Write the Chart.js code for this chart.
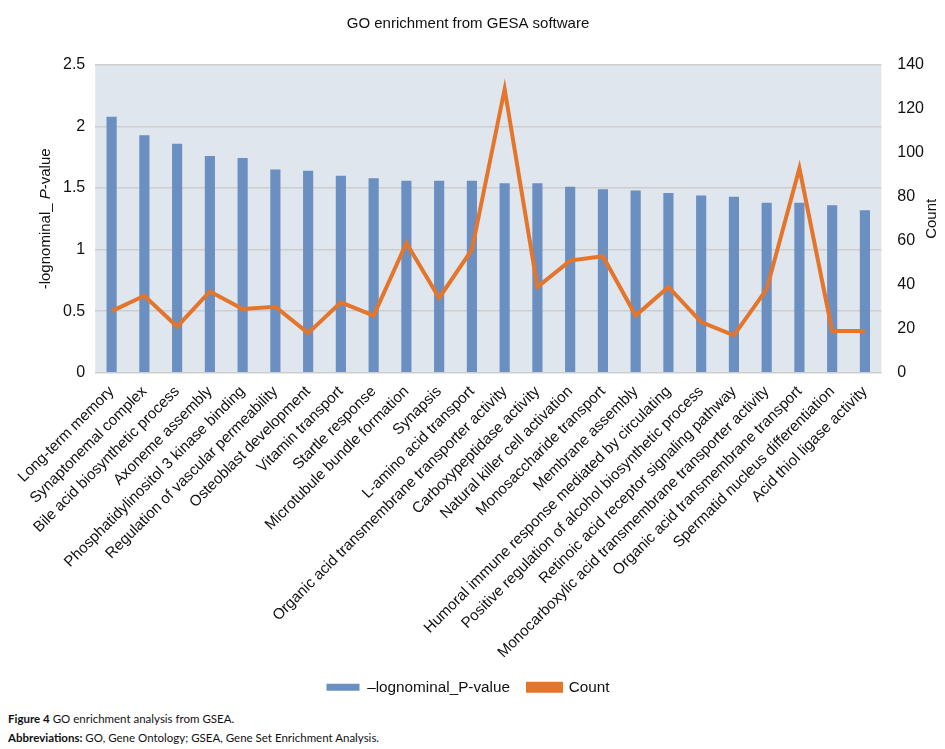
<!DOCTYPE html>
<html>
<head>
<meta charset="utf-8">
<script src="https://cdn.jsdelivr.net/npm/chart.js@4"></script>
<style>
  body { margin: 0; background: #fff; }
  #wrap { position: relative; width: 945px; height: 749px; }
  #myChart { position: absolute; left: 0; top: 0; }
  #caption { position: absolute; left: 8px; top: 709px; font-family: "Lato", "Open Sans", sans-serif; font-size: 11.5px; color: #111; line-height: 19px; }
</style>
</head>
<body>
<div id="wrap">
  <canvas id="myChart" width="945" height="707"></canvas>
  <div id="caption">
    <b>Figure 4</b> GO enrichment analysis from GSEA.<br>
    <b>Abbreviations:</b> GO, Gene Ontology; GSEA, Gene Set Enrichment Analysis.
  </div>
</div>
<script>
const terms = [
  "Long-term memory",
  "Synaptonemal complex",
  "Bile acid biosynthetic process",
  "Axoneme assembly",
  "Phosphatidylinositol 3 kinase binding",
  "Regulation of vascular permeability",
  "Osteoblast development",
  "Vitamin transport",
  "Startle response",
  "Microtubule bundle formation",
  "Synapsis",
  "L-amino acid transport",
  "Organic acid transmembrane transporter activity",
  "Carboxypeptidase activity",
  "Natural killer cell activation",
  "Monosaccharide transport",
  "Membrane assembly",
  "Humoral immune response mediated by circulating",
  "Positive regulation of alcohol biosynthetic process",
  "Retinoic acid receptor signaling pathway",
  "Monocarboxylic acid transmembrane transporter activity",
  "Organic acid transmembrane transport",
  "Spermatid nucleus differentiation",
  "Acid thiol ligase activity",
];

const logP = [2.08, 1.93, 1.86, 1.76, 1.745, 1.65, 1.64, 1.60, 1.58, 1.56, 1.56, 1.56,
  1.54, 1.54, 1.51, 1.49, 1.48, 1.46, 1.44, 1.43, 1.38, 1.38, 1.36, 1.32];

const counts = [28, 35, 21, 37, 29, 30, 18, 32, 26, 59, 34, 56,
  129, 39, 51, 53, 26, 39, 23, 17, 38, 93, 19, 19];

const leftTicks = [0, 0.5, 1, 1.5, 2, 2.5];
const rightTicks = [0, 20, 40, 60, 80, 100, 120, 140];

const font = "Arial, 'Liberation Sans', sans-serif";

// plot background + custom axis titles (italic P, Count reading upward)
const decor = {
  id: "decor",
  beforeDraw(chart) {
    const { ctx, chartArea: a } = chart;
    ctx.save();
    ctx.fillStyle = "#dfe6ee";
    ctx.fillRect(a.left, a.top, a.right - a.left, a.bottom - a.top);
    ctx.restore();
  },
  afterDraw(chart) {
    const { ctx, chartArea: a } = chart;
    const cy = (a.top + a.bottom) / 2;
    ctx.save();
    ctx.fillStyle = "#111";
    ctx.textBaseline = "middle";
    // left title
    ctx.translate(46, cy);
    ctx.rotate(-Math.PI / 2);
    const parts = [["-lognominal_ ", "15px " + font], ["P", "italic 15px " + font], ["-value", "15px " + font]];
    let w = 0;
    parts.forEach(p => { ctx.font = p[1]; w += ctx.measureText(p[0]).width; });
    let x = -w / 2;
    ctx.textAlign = "left";
    parts.forEach(p => { ctx.font = p[1]; ctx.fillText(p[0], x, 0); x += ctx.measureText(p[0]).width; });
    ctx.restore();
    // right title
    ctx.save();
    ctx.fillStyle = "#111";
    ctx.textBaseline = "middle";
    ctx.textAlign = "center";
    ctx.font = "15px " + font;
    ctx.translate(932, cy);
    ctx.rotate(-Math.PI / 2);
    ctx.fillText("Count", 0, 0);
    ctx.restore();
  }
};

new Chart(document.getElementById("myChart"), {
  data: {
    labels: terms,
    datasets: [
      {
        type: "line",
        label: "Count",
        data: counts,
        yAxisID: "y1",
        borderColor: "#e5752a",
        backgroundColor: "#e5752a",
        borderWidth: 4,
        pointRadius: 0,
        tension: 0,
        order: 0,
      },
      {
        type: "bar",
        label: "\u2013lognominal_P-value",
        data: logP,
        yAxisID: "y",
        backgroundColor: "#6a8fc0",
        barPercentage: 0.31,
        categoryPercentage: 1,
        order: 1,
      },
    ],
  },
  options: {
    responsive: false,
    devicePixelRatio: 1,
    animation: false,
    layout: { padding: { left: 4, right: 13, top: 6, bottom: 2 } },
    plugins: {
      title: {
        display: true,
        text: "GO enrichment from GESA software",
        color: "#111",
        font: { family: font, size: 15, weight: "normal" },
        padding: { top: 9, bottom: 32 },
      },
      legend: {
        position: "bottom",
        reverse: true,
        labels: {
          color: "#111",
          font: { family: font, size: 15.3 },
          boxWidth: 33,
          boxHeight: 7,
          padding: 18,
        },
      },
      tooltip: { enabled: false },
    },
    scales: {
      x: {
        grid: { display: false },
        border: { display: false },
        afterFit: (s) => { s.height = 289; },
        ticks: {
          color: "#111",
          font: { family: font, size: 15.2 },
          maxRotation: 45,
          minRotation: 45,
          autoSkip: false,
          padding: 2,
        },
      },
      y: {
        position: "left",
        min: 0,
        max: 2.5,
        afterBuildTicks: (s) => { s.ticks = leftTicks.map(v => ({ value: v })); },
        grid: { color: "#cdcdcd", lineWidth: 1.5, drawTicks: false },
        border: { display: false },
        ticks: { color: "#111", font: { family: font, size: 16 }, padding: 10, callback: (v) => String(v) },
        title: { display: true, text: "-lognominal_ P-value", color: "rgba(0,0,0,0)", font: { family: font, size: 15 }, padding: 15.5 },
      },
      y1: {
        position: "right",
        min: 0,
        max: 140,
        afterBuildTicks: (s) => { s.ticks = rightTicks.map(v => ({ value: v })); },
        grid: { display: false },
        border: { display: false },
        ticks: { color: "#111", font: { family: font, size: 16 }, padding: 8, callback: (v) => String(v) },
      },
    },
  },
  plugins: [decor],
});
</script>
</body>
</html>
